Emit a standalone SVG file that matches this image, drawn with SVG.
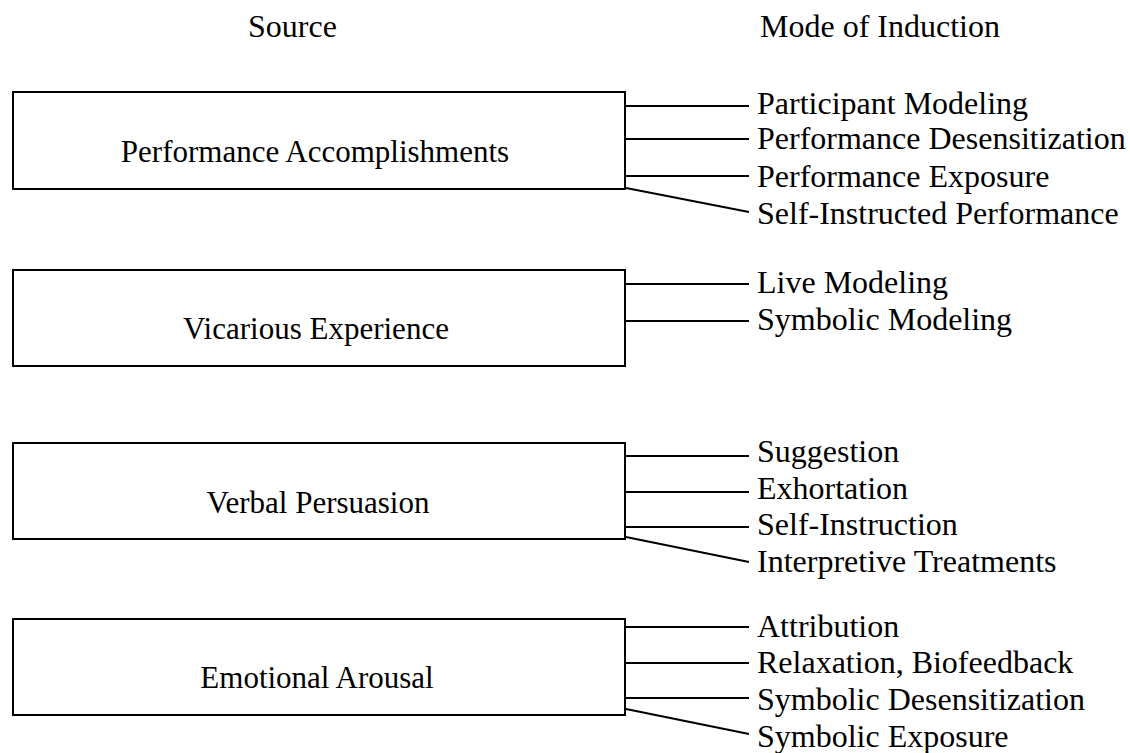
<svg xmlns="http://www.w3.org/2000/svg" width="1130" height="753" viewBox="0 0 1130 753">
<style>
text { font-family: "Liberation Serif", "Times New Roman", serif; font-size: 32px; fill: #000; }
.box { fill: #fff; stroke: #000; stroke-width: 2; }
.c { text-anchor: middle; font-size: 31px; }
#connectors line { stroke: #000; stroke-width: 2; }
</style>
<rect width="1130" height="753" fill="#fff"/>
<g id="headers">
<text x="248" y="37">Source</text>
<text x="760" y="37">Mode of Induction</text>
</g>
<g id="connectors">
<line x1="626" y1="106" x2="749" y2="106"/>
<line x1="626" y1="139" x2="749" y2="139"/>
<line x1="626" y1="176" x2="749" y2="176"/>
<line x1="626" y1="188" x2="749" y2="212"/>
<line x1="626" y1="284" x2="749" y2="284"/>
<line x1="626" y1="321" x2="749" y2="321"/>
<line x1="626" y1="456" x2="749" y2="456"/>
<line x1="626" y1="492" x2="749" y2="492"/>
<line x1="626" y1="527" x2="749" y2="527"/>
<line x1="626" y1="537" x2="749" y2="562"/>
<line x1="626" y1="627" x2="749" y2="627"/>
<line x1="626" y1="663" x2="749" y2="663"/>
<line x1="626" y1="698" x2="749" y2="698"/>
<line x1="626" y1="709" x2="749" y2="734"/>
</g>
<g id="node-performance">
<rect class="box" x="13" y="92" width="612" height="97"/>
<text class="c" x="315" y="162">Performance Accomplishments</text>
</g>
<g id="node-vicarious">
<rect class="box" x="13" y="270" width="612" height="96"/>
<text class="c" x="316" y="339">Vicarious Experience</text>
</g>
<g id="node-verbal">
<rect class="box" x="13" y="443" width="612" height="96"/>
<text class="c" x="318" y="513">Verbal Persuasion</text>
</g>
<g id="node-emotional">
<rect class="box" x="13" y="619" width="612" height="96"/>
<text class="c" x="317" y="688">Emotional Arousal</text>
</g>
<g id="modes">
<text x="757" y="114">Participant Modeling</text>
<text x="757" y="149">Performance Desensitization</text>
<text x="757" y="187">Performance Exposure</text>
<text x="757" y="224">Self-Instructed Performance</text>
<text x="757" y="293">Live Modeling</text>
<text x="757" y="330">Symbolic Modeling</text>
<text x="757" y="462">Suggestion</text>
<text x="757" y="499">Exhortation</text>
<text x="757" y="535">Self-Instruction</text>
<text x="757" y="572">Interpretive Treatments</text>
<text x="757" y="637">Attribution</text>
<text x="757" y="673">Relaxation, Biofeedback</text>
<text x="757" y="710">Symbolic Desensitization</text>
<text x="757" y="747">Symbolic Exposure</text>
</g>
</svg>
